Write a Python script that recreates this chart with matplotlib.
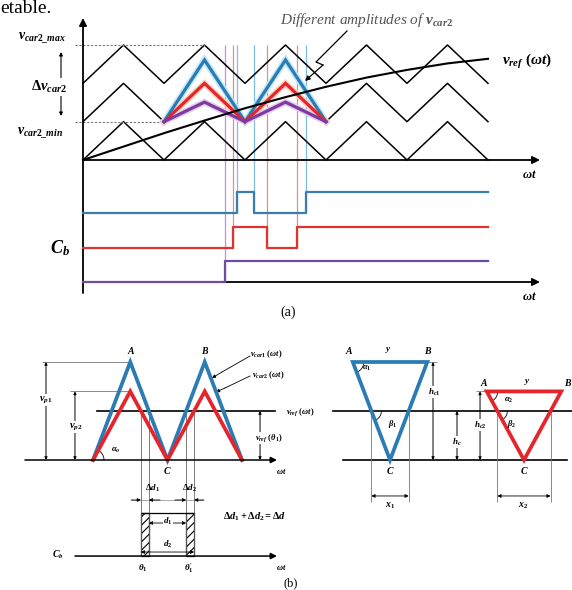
import numpy as np
import matplotlib.pyplot as plt
import matplotlib.transforms as mtransforms
from matplotlib.patches import Rectangle, Polygon

plt.rcParams['font.family'] = 'Liberation Serif'
plt.rcParams['mathtext.fontset'] = 'custom'
plt.rcParams['mathtext.it'] = 'Liberation Serif:italic:bold'
plt.rcParams['mathtext.rm'] = 'Liberation Serif:bold'
plt.rcParams['mathtext.bf'] = 'Liberation Serif:bold'
plt.rcParams['hatch.linewidth'] = 0.8

# (a) carriers: time in carrier periods, voltage in carrier bands
n_periods = 5
band_offsets = [0, 1, 2]
car2_amps = [1.61, 1.00, 0.51]          # blue, red, purple v_car2
car2_colors = ['#2b7bb4', '#e5242b', '#7b3c9e']
car2_halo = ['#bfe8f5', '#fbd3bf', '#e6cdee']
car2_from, car2_to = 1, 3
vref_t = [0, 0.5, 1, 1.5, 2, 2.5, 3, 3.5, 4, 4.5, 5]
vref_v = [0, 0.35, 0.70, 1.03, 1.35, 1.64, 1.91, 2.15, 2.35, 2.52, 2.64]

# (a) C_b switching instants for each v_car2 amplitude
cb_edges = [[1.90, 2.11, 2.75], [1.85, 2.27, 2.64], [1.75]]
cb_colors = ['#3a7fab', '#e2312e', '#6b4f9e']
guide_colors = ['#7fbde0', '#e88a8a', '#c98fd2']
pulse_h = 0.55

# (b) peak values v_p1, v_p2 and reference level
vp = [1.0, 0.7]
vref_b = 0.5
b_colors = ['#2b7bb4', '#e5242b']

fig = plt.figure(figsize=(5.72, 5.90), dpi=100)
# pixel coordinates, origin top-left, for labels and dimension marks
PX = mtransforms.Affine2D().scale(1 / 572, -1 / 590).translate(0, 1) + fig.transFigure


def txt(x, y, s, size=7, **kw):
    kw.setdefault('ha', 'center')
    kw.setdefault('va', 'center')
    fig.text(x, y, s, transform=PX, fontsize=size, **kw)


def arr(ax, p0, p1, style='-|>', ms=6, lw=0.8, color='k', coords=None):
    coords = PX if coords is None else coords
    ax.annotate('', xy=p1, xytext=p0, xycoords=coords, textcoords=coords,
                annotation_clip=False,
                arrowprops=dict(arrowstyle=style, lw=lw, color=color,
                                mutation_scale=ms, shrinkA=0, shrinkB=0))


# ---------------- panel (a) ----------------
ax = fig.add_axes([0, 0, 1, 1])
ax.set_xlim(-83 / 81, 489 / 81)
ax.set_ylim(-430 / 38.33, 160 / 38.33)
ax.axis('off')

sig_low = [-1.383, -2.296, -3.183]

for edges, low, gc in zip(cb_edges, sig_low, guide_colors):
    ax.vlines(edges, low, 3, colors=gc, lw=0.9, zorder=1)

tv = np.arange(0, n_periods + 0.25, 0.5)
for off in band_offsets:
    vv = off + np.arange(len(tv)) % 2
    if off == 1:
        m1 = tv <= car2_from
        m2 = tv >= car2_to
        ax.plot(tv[m1], vv[m1], 'k', lw=1.1, zorder=2)
        ax.plot(tv[m2], vv[m2], 'k', lw=1.1, zorder=2)
    else:
        ax.plot(tv, vv, color='k', lw=1.1, zorder=2)

tc = tv[(tv >= car2_from) & (tv <= car2_to)]
for amp, h in zip(car2_amps, car2_halo):
    ax.plot(tc, 1 + amp * (np.arange(len(tc)) % 2), color=h, lw=4.6,
            solid_joinstyle='miter', zorder=3)
for amp, c in zip(car2_amps, car2_colors):
    ax.plot(tc, 1 + amp * (np.arange(len(tc)) % 2), color=c, lw=2.3,
            solid_joinstyle='miter', zorder=4)

ax.plot(vref_t, vref_v, color='k', lw=1.5, zorder=5)

# C_b pulse trains
for edges, low, c in zip(cb_edges, sig_low, cb_colors):
    xs, ys, lvl = [0], [low], low
    for e in edges:
        xs.append(e)
        ys.append(lvl)
        lvl = low + pulse_h if lvl == low else low
        xs.append(e)
        ys.append(lvl)
    xs.append(n_periods)
    ys.append(lvl)
    ax.plot(xs, ys, color=c, lw=1.6, zorder=4)

# axes of panel (a)
arr(ax, (83, 293), (83, 18), ms=11, lw=1.3)
arr(ax, (83, 160), (540, 160), ms=11, lw=1.3)
arr(ax, (83, 282), (540, 282), ms=11, lw=1.3)
ax.hlines(3, -0.1, 1.5, colors='#777777', lw=0.8, linestyles=(0, (2, 1.5)))
ax.hlines(1, -0.1, 1.0, colors='#777777', lw=0.8, linestyles=(0, (2, 1.5)))
arr(ax, (61, 80), (61, 52), style='-|>', ms=5, lw=0.8)
arr(ax, (61, 94), (61, 116), style='-|>', ms=5, lw=0.8)

# leader to the coloured carriers
ax.plot([347, 316, 323], [31, 62, 65], transform=PX, color='k', lw=0.9)
arr(ax, (323, 65), (305, 81), ms=7, lw=0.9)

txt(0, 13, 'etable.', size=14, ha='left', va='baseline', family='Liberation Serif')
txt(367, 20, r'Different amplitudes of $v_{car2}$', size=11, style='italic',
    color='#555555')
txt(42, 38, r'$v_{car2\_max}$', size=10)
txt(49, 87, r'$\Delta v_{car2}$', size=10.5,
    bbox=dict(fc='white', ec='none', pad=0.5))
txt(40, 133, r'$v_{car2\_min}$', size=10)
txt(527, 62, r'$v_{ref}\ (\omega t)$', size=11)
txt(529, 175, r'$\omega t$', size=9)
txt(529, 297, r'$\omega t$', size=9)
txt(60, 248, r'$C_b$', size=13)
txt(288, 312, '(a)', size=10)

# ---------------- panel (b) ----------------
bx = fig.add_axes([0, 0, 1, 1])
bx.patch.set_alpha(0)
bx.set_xlim(-93 / 74.5, 479 / 74.5)
bx.set_ylim(-130 / 98, 460 / 98)
bx.axis('off')


def b2px(x, y):
    return 93 + 74.5 * x, 460 - 98 * y


xb = np.array([0, 0.5, 1, 1.5, 2])
for a, c in zip(vp, b_colors):
    bx.plot(xb, a * (np.arange(len(xb)) % 2), color=c, lw=2.7,
            solid_joinstyle='miter', zorder=3)

arr(bx, (-0.913, 0), (2.47, 0), ms=9, lw=1.1, coords='data')
bx.plot([0.05, 2.44], [vref_b, vref_b], color='k', lw=1.2)

cross = sorted([1 - 0.5 * vref_b / a for a in vp] + [1 + 0.5 * vref_b / a for a in vp])
y_top, y_bot = -0.541, -0.98
bx.vlines(cross, y_bot, vref_b, colors='#666666', lw=0.6)
for x0, x1 in [(cross[0], cross[1]), (cross[2], cross[3])]:
    bx.add_patch(Rectangle((x0, y_bot), x1 - x0, y_top - y_bot, fill=False,
                           hatch='////', lw=0.9, ec='k'))
bx.hlines(y_top, cross[0], cross[3], colors='k', lw=0.9)
arr(bx, (-0.242, y_bot), (2.47, y_bot), ms=9, lw=1.1, coords='data')
arr(bx, (cross[1], -0.643), (cross[2], -0.643), style='<|-|>', ms=5, lw=0.6, coords='data')
arr(bx, (cross[0], -0.939), (cross[3], -0.939), style='<|-|>', ms=5, lw=0.6, coords='data')
bx.hlines(-0.408, cross[0] - 0.13, cross[3] + 0.13, colors='#888888', lw=0.5)
arr(bx, (cross[0] - 0.13, -0.408), (cross[0], -0.408), ms=5, lw=0.6, coords='data')
arr(bx, (cross[1] + 0.15, -0.408), (cross[1], -0.408), ms=5, lw=0.6, coords='data')
arr(bx, (cross[2] - 0.15, -0.408), (cross[2], -0.408), ms=5, lw=0.6, coords='data')
arr(bx, (cross[3] + 0.13, -0.408), (cross[3], -0.408), ms=5, lw=0.6, coords='data')

# amplitude dimensions
bx.hlines(vp[0], -0.685, 0.5, colors='#777777', lw=0.6)
bx.hlines(vp[1], -0.309, 0.5, colors='#777777', lw=0.6)
arr(bx, (-0.631, 0), (-0.631, vp[0]), style='<|-|>', ms=4, lw=0.7, coords='data')
arr(bx, (-0.242, 0), (-0.242, vp[1]), style='<|-|>', ms=4, lw=0.7, coords='data')
arr(bx, (2.242, 0), (2.242, vref_b), style='<|-|>', ms=4, lw=0.7, coords='data')

# alpha_o arc at the start of the carriers
p0 = b2px(0, 0)
pk = b2px(0.5, vp[1])
ang = np.arctan2(pk[1] - p0[1], pk[0] - p0[0])
th = np.linspace(ang, 0, 20)
ax.plot(p0[0] + 11 * np.cos(th), p0[1] + 11 * np.sin(th), transform=PX, color='k', lw=0.6)

# leaders to v_car1 / v_car2
ax.plot([250, 222], [356, 372], transform=PX, color='k', lw=0.6)
arr(ax, (222, 372), (212, 378), ms=5, lw=0.6)
ax.plot([250, 225], [376, 388], transform=PX, color='k', lw=0.6)
arr(ax, (225, 388), (216, 392), ms=5, lw=0.6)

# right-hand inverted triangles
bx.plot([3.221, 6.43], [vref_b, vref_b], color='k', lw=1.2)
bx.plot([3.356, 6.362], [0, 0], color='k', lw=1.2)
xcs = [3.987, 5.785]
for a, xc, c in zip(vp, xcs, b_colors):
    bx.add_patch(Polygon([(xc - 0.5, a), (xc + 0.5, a), (xc, 0)], closed=True,
                         fill=False, ec=c, lw=2.7, joinstyle='miter', zorder=3))
    xl, xr = xc - 0.5 * vref_b / a, xc + 0.5 * vref_b / a
    bx.vlines([xl, xr], -0.429, vref_b, colors='#777777', lw=0.6)
    arr(bx, (xl, -0.367), (xr, -0.367), style='<|-|>', ms=5, lw=0.6, coords='data')
    # alpha arc at A, beta arc at the v_ref crossing
    pa, pc, pb = b2px(xc - 0.5, a), b2px(xc, 0), b2px(xl, vref_b)
    ang = np.arctan2(pc[1] - pa[1], pc[0] - pa[0])
    th = np.linspace(0, ang, 20)
    ax.plot(pa[0] + 11 * np.cos(th), pa[1] + 11 * np.sin(th), transform=PX, color='k', lw=0.6)
    ax.plot(pb[0] + 10 * np.cos(th), pb[1] + 10 * np.sin(th), transform=PX, color='k', lw=0.6)

bx.hlines(vp[0], xcs[0] + 0.5, 4.62, colors='#777777', lw=0.6)
bx.hlines(vp[1], 5.14, xcs[1] - 0.5, colors='#777777', lw=0.6)
arr(bx, (4.564, 0), (4.564, vp[0]), style='<|-|>', ms=4, lw=0.7, coords='data')
arr(bx, (4.886, 0), (4.886, vref_b), style='<|-|>', ms=4, lw=0.7, coords='data')
arr(bx, (5.195, 0), (5.195, vp[1]), style='<|-|>', ms=4, lw=0.7, coords='data')

wb = dict(fc='white', ec='none', pad=0.3)
txt(131, 351, r'$A$', size=7)
txt(205, 351, r'$B$', size=7)
txt(266, 354, r'$v_{car1}\ (\omega t)$', size=6)
txt(268, 375, r'$v_{car2}\ (\omega t)$', size=6)
txt(46, 400, r'$v_{p1}$', size=7.5, bbox=wb)
txt(76, 427, r'$v_{p2}$', size=7.5, bbox=wb)
txt(300, 412, r'$v_{ref}\ (\omega t)$', size=6)
txt(269, 438, r'$v_{ref}\ (\theta_1)$', size=6, bbox=wb)
txt(116, 450, r'$\alpha_o$', size=6)
txt(167, 470, r'$C$', size=7)
txt(281, 472, r'$\omega t$', size=6)
txt(153, 488, r'$\Delta d_1$', size=6.5)
txt(190, 488, r'$\Delta d_2$', size=6.5)
txt(168, 521, r'$d_1$', size=6.5, bbox=wb)
txt(168, 544, r'$d_2$', size=6.5, bbox=wb)
txt(255, 517, r'$\Delta d_1 + \Delta d_2 = \Delta d$', size=7.5)
txt(58, 555, r'$C_b$', size=7)
txt(281, 567, r'$\omega t$', size=6)
txt(143, 568, r'$\theta_1$', size=6.5)
txt(189, 568, r"$\theta_1'$", size=6.5)
txt(291, 583, '(b)', size=9)

txt(349, 350, r'$A$', size=7)
txt(388, 350, r'$y$', size=6.5)
txt(428, 350, r'$B$', size=7)
txt(367, 368, r'$\alpha_1$', size=6)
txt(393, 424, r'$\beta_1$', size=6)
txt(390, 470, r'$C$', size=7)
txt(390, 506, r'$x_1$', size=7)
txt(434, 392, r'$h_{c1}$', size=6.5, bbox=wb)
txt(457, 442, r'$h_c$', size=6.5, bbox=wb)
txt(480, 425, r'$h_{c2}$', size=6.5, bbox=wb)
txt(484, 382, r'$A$', size=7)
txt(527, 382, r'$y$', size=6.5)
txt(568, 382, r'$B$', size=7)
txt(509, 400, r'$\alpha_2$', size=6)
txt(512, 424, r'$\beta_2$', size=6)
txt(524, 470, r'$C$', size=7)
txt(523, 506, r'$x_2$', size=7)

fig.savefig('out.png', dpi=100, facecolor='white')
